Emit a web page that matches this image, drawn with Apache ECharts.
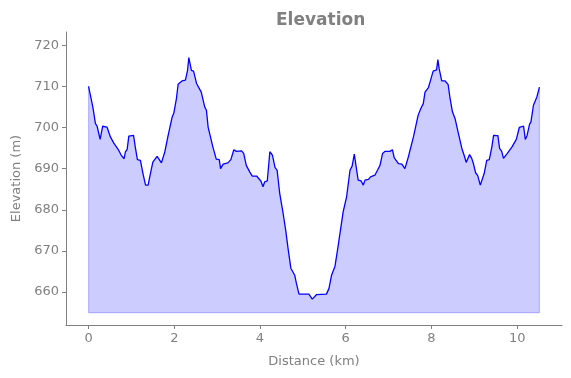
<!DOCTYPE html>
<html>
<head>
<meta charset="utf-8">
<script src="https://cdn.jsdelivr.net/npm/echarts@6/dist/echarts.min.js"></script>
<style>
  html, body { margin: 0; padding: 0; background: #fff; }
  #chart { width: 571px; height: 378px; }
</style>
</head>
<body>
<div id="chart"></div>
<script>
// distance along the route (km) and elevation (m)
var distance = [0.00, 0.06, 0.10, 0.16, 0.20, 0.27, 0.33, 0.43, 0.51, 0.59, 0.69, 0.76, 0.83, 0.86, 0.90, 0.94,
    1.05, 1.09, 1.14, 1.21, 1.27, 1.33, 1.39, 1.44, 1.50, 1.60, 1.70, 1.78, 1.85, 1.95, 1.99,
    2.05, 2.09, 2.18, 2.26, 2.31, 2.34, 2.40, 2.45, 2.52, 2.63, 2.71, 2.75, 2.79, 2.83, 2.90, 2.98,
    3.05, 3.08, 3.14, 3.25, 3.32, 3.39, 3.45, 3.57, 3.62, 3.68, 3.76, 3.82, 3.92, 3.97,
    4.02, 4.07, 4.11, 4.17, 4.23, 4.29, 4.35, 4.40, 4.46, 4.54, 4.60, 4.66, 4.72, 4.81, 4.85, 4.91,
    5.05, 5.14, 5.22, 5.26, 5.32, 5.55, 5.61, 5.67, 5.75, 5.82, 5.94,
    6.02, 6.10, 6.15, 6.20, 6.24, 6.29, 6.36, 6.41, 6.45, 6.53, 6.58, 6.68, 6.75, 6.80, 6.86, 6.92,
    7.03, 7.09, 7.13, 7.23, 7.31, 7.38, 7.41, 7.46, 7.58, 7.69, 7.76, 7.81, 7.85, 7.93, 7.98,
    8.04, 8.08, 8.12, 8.15, 8.18, 8.24, 8.32, 8.39, 8.43, 8.49, 8.55, 8.63, 8.71, 8.77, 8.81, 8.89, 8.94, 8.98,
    9.03, 9.08, 9.14, 9.18, 9.23, 9.29, 9.35, 9.41, 9.45, 9.55, 9.59, 9.64, 9.68, 9.77, 9.88, 9.98,
    10.05, 10.15, 10.19, 10.23, 10.29, 10.32, 10.38, 10.46, 10.52];
var elevation = [710, 707, 705, 701, 700.3, 697.1, 700.3, 700.1, 697.7, 696.2, 694.7, 693.3, 692.4, 694.1, 694.6, 697.9,
    698.1, 695.3, 692.2, 692, 688.8, 686, 686, 688.6, 691.6, 693, 691.4, 694.1, 697.7, 702.5, 703.5,
    707, 710.5, 711.3, 711.5, 713.9, 717, 713.9, 713.7, 710.7, 708.6, 705, 704.2, 700.1, 700, 695.3, 692.3,
    692.2, 690, 691.1, 691.4, 692.2, 694.6, 694.2, 694.3, 693.7, 690.8, 689.2, 688.2, 688.2, 687.6,
    687, 685.6, 686.8, 687, 694.1, 693.3, 690.3, 689.6, 684, 679.1, 675, 670.2, 665.8, 664.1, 662.1, 659.5,
    659.5, 659.5, 658.3, 658.3, 659.4, 659.5, 660.9, 664.1, 666.3, 671, 679.5,
    683.1, 689.6, 690.6, 693.5, 693.8, 687.2, 687, 686, 687.2, 687.4, 688, 688.4, 689.8, 690.8, 693.7, 694.2,
    694.2, 694.6, 692.7, 691.2, 691.1, 690, 691, 692.8, 697.7, 703, 704.8, 705.8, 708.6, 709.7, 711.5,
    713.7, 714.1, 714, 716.5, 714.3, 711.3, 711.3, 710.4, 707.4, 703.8, 702.2, 698.5, 694.9, 693, 691.5, 693.4, 692.5, 691.2,
    689, 688.3, 686, 686, 688.8, 692, 692.2, 695.3, 698.1, 698, 694.9, 694.2, 692.5, 693.7, 695.3, 697.1,
    700, 700.3, 697.1, 698, 700.8, 701.3, 705.4, 707.4, 709.8];
var fillBase = 655;
var xTicks = [0, 2, 4, 6, 8, 10];
var yTicks = [660, 670, 680, 690, 700, 710, 720];

var points = distance.map(function (d, i) { return [d, elevation[i]]; });
var last = distance.length - 1;
// outline of the filled band (sides and bottom)
var bandEdge = [
    [distance[0], elevation[0]], [distance[0], fillBase],
    [distance[last], fillBase], [distance[last], elevation[last]]
];

var grey = '#808080';
var myChart = echarts.init(document.getElementById('chart'));
var option = {
    animation: false,
    title: {
        text: 'Elevation',
        left: 271,
        top: 7,
        textStyle: { color: grey, fontSize: 17, fontWeight: 'bold', fontFamily: 'DejaVu Sans' }
    },
    grid: { left: 66, right: 9, top: 32, bottom: 53 },
    xAxis: {
        type: 'value',
        min: -0.526,
        max: 11.046,
        name: 'Distance (km)',
        nameLocation: 'middle',
        nameGap: 30,
        nameTextStyle: { color: grey, fontSize: 13, fontFamily: 'DejaVu Sans' },
        splitLine: { show: false },
        axisLine: { onZero: false, lineStyle: { color: grey, width: 1 } },
        axisTick: { show: true, length: 4, lineStyle: { color: grey }, customValues: xTicks },
        axisLabel: { color: grey, fontSize: 13, fontFamily: 'DejaVu Sans', margin: 7, customValues: xTicks }
    },
    yAxis: {
        type: 'value',
        min: 652,
        max: 723.2,
        name: 'Elevation (m)',
        nameLocation: 'middle',
        nameGap: 43,
        nameTextStyle: { color: grey, fontSize: 13, fontFamily: 'DejaVu Sans' },
        splitLine: { show: false },
        axisLine: { show: true, onZero: false, lineStyle: { color: grey, width: 1 } },
        axisTick: { show: true, length: 4, lineStyle: { color: grey }, customValues: yTicks },
        axisLabel: { color: grey, fontSize: 13, fontFamily: 'DejaVu Sans', margin: 7, customValues: yTicks }
    },
    series: [
        {
            type: 'line',
            data: points,
            showSymbol: false,
            silent: true,
            lineStyle: { width: 0 },
            areaStyle: { color: 'rgba(0,0,255,0.2)', origin: fillBase, opacity: 1 },
            z: 1
        },
        {
            type: 'line',
            data: bandEdge,
            showSymbol: false,
            silent: true,
            lineStyle: { color: 'rgba(0,0,255,0.22)', width: 1.2 },
            z: 2
        },
        {
            type: 'line',
            data: points,
            showSymbol: false,
            silent: true,
            lineStyle: { color: '#0000ff', width: 1.3 },
            z: 3
        }
    ]
};
myChart.setOption(option);
</script>
</body>
</html>
